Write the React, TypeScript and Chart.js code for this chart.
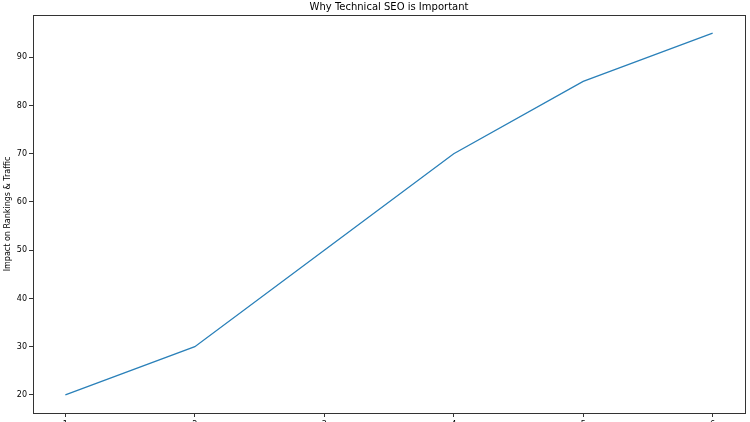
import { useEffect, useRef } from "react";
import { Chart, registerables } from "chart.js";

Chart.register(...registerables);

const steps = [1, 2, 3, 4, 5, 6];
const impact = [20, 30, 50, 70, 85, 95];
const yTicks = [20, 30, 40, 50, 60, 70, 80, 90];

const FONT = "DejaVu Sans";

export default function App() {
  const ref = useRef<HTMLCanvasElement>(null);

  useEffect(() => {
    if (!ref.current) return;
    const boxPlugin = {
      id: "box",
      // centre the title over the plot area, as matplotlib does
      afterLayout: (chart: any) => {
        const tb = chart.titleBlock;
        if (tb) {
          tb.left = chart.chartArea.left;
          tb.right = chart.chartArea.right;
          tb.width = tb.right - tb.left;
        }
      },
      afterDraw: (chart: Chart) => {
        const { ctx, chartArea } = chart;
        ctx.save();
        ctx.strokeStyle = "#333";
        ctx.lineWidth = 1;
        ctx.strokeRect(
          Math.round(chartArea.left) + 0.5,
          Math.round(chartArea.top) + 0.5,
          Math.round(chartArea.right - chartArea.left),
          Math.round(chartArea.bottom - chartArea.top),
        );
        ctx.restore();
      },
    };
    const chart = new Chart(ref.current, {
      type: "line",
      plugins: [boxPlugin],
      data: {
        datasets: [
          {
            label: "Impact",
            data: steps.map((s, i) => ({ x: s, y: impact[i] })),
            borderColor: "#2a80b9",
            borderWidth: 1.3,
            pointRadius: 0,
            tension: 0,
            fill: false,
          },
        ],
      },
      options: {
        animation: false,
        responsive: true,
        maintainAspectRatio: false,
        layout: { padding: { left: 0, right: 5, top: 0, bottom: 0 } },
        plugins: {
          legend: { display: false },
          tooltip: { enabled: false },
          title: {
            display: true,
            text: "Why Technical SEO is Important",
            color: "#000",
            font: { family: FONT, size: 10, weight: "normal" },
            padding: { top: 1, bottom: 2 },
          },
        },
        scales: {
          x: {
            type: "linear",
            min: 0.75,
            max: 6.25,
            afterBuildTicks: (scale: any) => {
              scale.ticks = steps.map((v) => ({ value: v }));
            },
            afterFit: (scale: any) => {
              scale.height = 27;
            },
            grid: {
              display: true,
              drawOnChartArea: false,
              drawTicks: true,
              tickLength: 4,
              color: "#333",
            },
            border: { display: false },
            ticks: {
              color: "#000",
              font: { family: FONT, size: 8 },
              padding: 3,
              maxRotation: 0,
            },
          },
          y: {
            min: 16.25,
            max: 98.75,
            afterBuildTicks: (scale: any) => {
              scale.ticks = yTicks.map((v) => ({ value: v }));
            },
            afterFit: (scale: any) => {
              scale.width = 33;
            },
            title: {
              display: true,
              text: "Impact on Rankings & Traffic",
              color: "#000",
              font: { family: FONT, size: 8 },
              padding: { top: 3, bottom: 0 },
            },
            grid: {
              display: true,
              drawOnChartArea: false,
              drawTicks: true,
              tickLength: 4,
              color: "#333",
            },
            border: { display: false },
            ticks: {
              color: "#000",
              font: { family: FONT, size: 8 },
              padding: 2,
            },
          },
        },
      },
    });
    return () => chart.destroy();
  }, []);

  return (
    <div
      style={{
        position: "fixed",
        left: 0,
        top: 0,
        width: 750,
        height: 422,
        overflow: "hidden",
        background: "#fff",
      }}
    >
      <div style={{ position: "relative", width: 750, height: 440 }}>
        <canvas ref={ref} />
      </div>
    </div>
  );
}
